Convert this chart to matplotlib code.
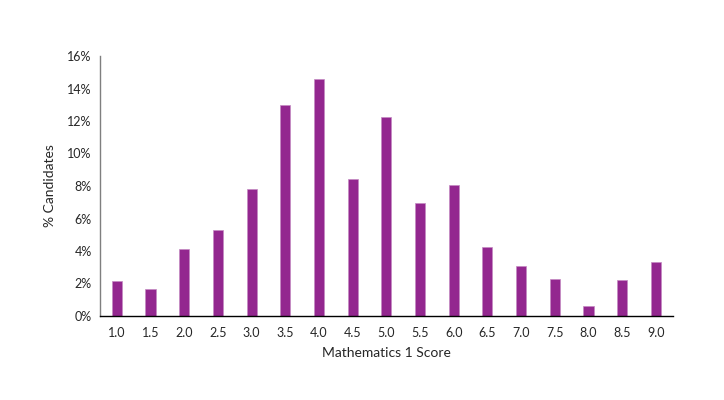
import matplotlib
matplotlib.use("Agg")
import matplotlib.pyplot as plt
from matplotlib.ticker import FuncFormatter, MultipleLocator

scores = ["1.0", "1.5", "2.0", "2.5", "3.0", "3.5", "4.0", "4.5", "5.0",
          "5.5", "6.0", "6.5", "7.0", "7.5", "8.0", "8.5", "9.0"]
pct = [2.13, 1.64, 4.10, 5.27, 7.79, 12.98, 14.6, 8.43, 12.25,
       6.95, 8.06, 4.27, 3.08, 2.30, 0.60, 2.22, 3.32]

plt.rcParams['font.family'] = ['Lato', 'DejaVu Sans']

fig = plt.figure(figsize=(7.24, 4.0), dpi=100)
ax = fig.add_axes([100/724, 1-316/400, (672.7-100)/724, (316-56)/400])

x = list(range(len(scores)))
ax.bar(x, pct, width=0.3, color='#93278F', edgecolor='#c58ac2', linewidth=0.5)

ax.set_xlim(-0.5, len(scores) - 0.5)
ax.set_ylim(0, 16)
ax.yaxis.set_major_locator(MultipleLocator(2))
ax.yaxis.set_major_formatter(FuncFormatter(lambda v, p: f"{v:.0f}%"))
ax.set_xticks(x)
ax.set_xticklabels(scores)

for s in ['top', 'right']:
    ax.spines[s].set_visible(False)
ax.spines['left'].set_color('#7f7f7f')
ax.spines['left'].set_linewidth(1.0)
ax.spines['bottom'].set_color('#000000')
ax.spines['bottom'].set_linewidth(1.0)
ax.tick_params(axis='both', length=0, labelsize=9, colors='#262626', pad=8)
ax.tick_params(axis='y', pad=6)

ax.set_xlabel("Mathematics 1 Score", fontsize=10, color='#262626', labelpad=6)
ax.set_ylabel("% Candidates", fontsize=10, color='#262626', labelpad=8)

fig.savefig("out.png", dpi=100, facecolor='white')
